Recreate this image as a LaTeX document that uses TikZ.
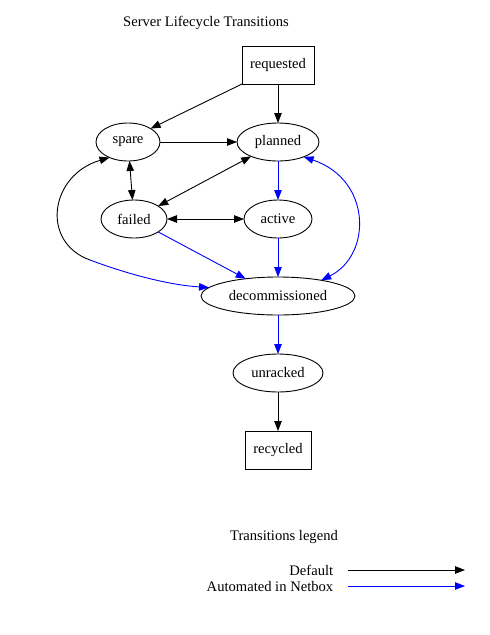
\documentclass[tikz,border=0pt]{standalone}
\usepackage{fontspec}
\setmainfont{Liberation Serif}
\usetikzlibrary{positioning, shapes.geometric, arrows.meta}

\begin{document}
\begin{tikzpicture}[x=1pt, y=-1pt, node distance=39pt and 77pt, line width=0.9pt,
  every node/.style={font=\fontsize{14.6}{16}\selectfont},
  state/.style={draw, ellipse, minimum height=38pt, inner sep=1pt, outer sep=0pt},
  box/.style={draw, rectangle, minimum height=38pt, outer sep=0pt},
  netbox/.style={blue},
  >={Triangle[length=10pt, width=7.5pt]}]
\useasboundingbox (0,0) rectangle (490,635);
\node (title) at (206,23) {Server Lifecycle Transitions};
\node[box, minimum width=72pt] (requested) at (278,65) {requested};
\node[state, minimum width=82pt, below=of requested] (planned) {planned};
\node[state, minimum width=64pt, left=of planned] (spare) {spare};
\node[state, minimum width=68pt, below=of planned] (active) {active};
\node[state, minimum width=66pt, left=of active] (failed) {failed};
\node[state, minimum width=154pt, below=of active] (decom) {decommissioned};
\node[state, minimum width=90pt, below=of decom] (unracked) {unracked};
\node[box, minimum width=66pt, below=of unracked] (recycled) {recycled};
\draw[->] (requested.south west) -- (spare.north east);
\draw[->] (requested) -- (planned);
\draw[->] (spare) -- (planned);
\draw[<->] (spare) -- (failed);
\draw[<->] (failed) -- (planned);
\draw[<->] (failed) -- (active);
\draw[netbox, ->] (planned) -- (active);
\draw[netbox, ->] (active) -- (decom);
\draw[netbox, ->] (failed) -- (decom);
\draw[netbox, <->] (planned.-30) .. controls (372,180) and (372,255) .. (decom.20);
\coordinate (lbend) at (90,260);
\draw[<-] (spare.220) .. controls (50,175) and (40,242) .. (lbend);
\draw[netbox, ->] (lbend) .. controls (130,275) and (170,285) .. (decom.173);
\draw[->] (unracked) -- (recycled);
\draw[netbox, ->] (decom) -- (unracked);
\node (legend) at (284,537) {Transitions legend};
\node[anchor=east] (ldefault) at (337,570) {Default};
\node[anchor=east] (lnetbox) at (337,586) {Automated in Netbox};
\coordinate (ldefa) at (348,570);
\coordinate (ldefb) at (465,570);
\coordinate (lneta) at (348,586);
\coordinate (lnetb) at (465,586);
\draw[->] (ldefa) -- (ldefb);
\draw[netbox, ->] (lneta) -- (lnetb);
\end{tikzpicture}
\end{document}
